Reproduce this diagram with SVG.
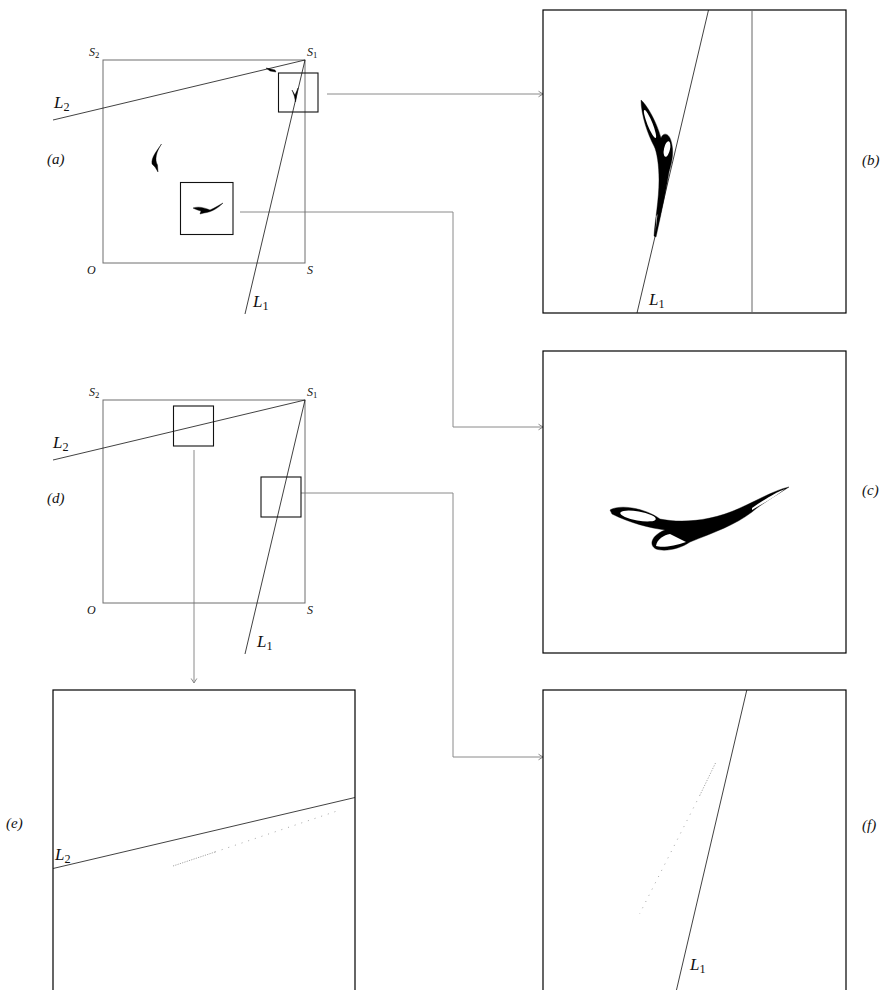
<svg xmlns="http://www.w3.org/2000/svg" width="895" height="990" viewBox="0 0 895 990">
<style>
.frame{fill:none;stroke:#6e6e6e;stroke-width:1}
.panel{fill:none;stroke:#000;stroke-width:1.2}
.box{fill:none;stroke:#111;stroke-width:1.1}
.ln{fill:none;stroke:#111;stroke-width:0.8}
.vline{fill:none;stroke:#666;stroke-width:1}
.conn{fill:none;stroke:#8a8a8a;stroke-width:1}
.att{fill:#000;stroke:#000;stroke-width:0.4}
.hole{fill:#fff;stroke:none}
.dots{fill:none;stroke:#9a9a9a;stroke-width:0.9}
text{font-family:"Liberation Serif","DejaVu Serif",serif;fill:#111}
.s{font-size:12px;font-style:italic}
.L{font-size:17px;font-style:italic}
.tag{font-size:15px;font-style:italic}
.sub{font-style:normal;font-size:0.72em}
</style>
<defs>
<marker id="arr" markerWidth="8" markerHeight="8" refX="6" refY="4" orient="auto" markerUnits="userSpaceOnUse">
<path d="M1.5,1.2 L6,4 L1.5,6.8" fill="none" stroke="#8a8a8a" stroke-width="1"/>
</marker>
</defs>

<g id="connectors">
<path class="conn" d="M327,94 H543" marker-end="url(#arr)"/>
<path class="conn" d="M240,212 H453 V427 H543" marker-end="url(#arr)"/>
<path class="conn" d="M194,450 V683" marker-end="url(#arr)"/>
<path class="conn" d="M301,493 H453 V757 H543" marker-end="url(#arr)"/>
</g>

<g id="panel-a">
<rect class="frame" x="103" y="60" width="202" height="203"/>
<line class="ln" x1="305" y1="60" x2="53" y2="120"/>
<line class="ln" x1="305" y1="60" x2="245" y2="314"/>
<rect class="box" x="278.5" y="73" width="39.5" height="39"/>
<rect class="box" x="180.5" y="182.5" width="52.5" height="52"/>
<path class="att" d="M266,68 L275,70 L276,72 L270,71 Z"/>
<path class="att" d="M292,90 L295,95 L298,88 L296.5,96 L295.5,102 L294.3,96 Z"/>
<path class="att" d="M161.5,144 C157,151 151,157 152,164 L155,167 L158,172 L157.5,165 C154.5,160 156,152 161.5,144 Z"/>
<path class="att" d="M193,208 C199,206 205,208 210,210 C215,208 219,205 223,203 C218,208 212,212 204,213 L200,214 L201,211 C197,210 195,209 193,208 Z"/>
<text class="s" x="89" y="56">S<tspan class="sub" dy="2">2</tspan></text>
<text class="s" x="307" y="56">S<tspan class="sub" dy="2">1</tspan></text>
<text class="s" x="87" y="274">O</text>
<text class="s" x="307" y="274">S</text>
<text class="L" x="54" y="108">L<tspan class="sub" dy="3">2</tspan></text>
<text class="L" x="253" y="307">L<tspan class="sub" dy="3">1</tspan></text>
<text class="tag" x="47" y="164">(a)</text>
</g>

<g id="panel-b">
<rect class="panel" x="543" y="10" width="303" height="303"/>
<line class="vline" x1="752" y1="10" x2="752" y2="313"/>
<line class="ln" x1="708.5" y1="10" x2="637" y2="313"/>
<path class="att" d="M641,100 C646,104 656,120 661,138 C663,132 670,132 672,145 C674,155 671,165 669,172 C666,190 662,210 656,237 L654,236 C655,220 659,200 659,180 C659,165 657,152 654,146 C648,135 641,115 641,100 Z"/>
<ellipse class="hole" cx="650" cy="124" rx="2.6" ry="15" transform="rotate(-22 650 124)"/>
<ellipse class="hole" cx="667" cy="149" rx="3" ry="8" transform="rotate(12 667 149)"/>
<path class="hole" d="M656.5,216 L657.5,214 L655.5,232 Z"/>
<text class="L" x="649" y="305">L<tspan class="sub" dy="3">1</tspan></text>
<text class="tag" x="862" y="165">(b)</text>
</g>

<g id="panel-c">
<rect class="panel" x="543" y="351" width="303" height="302"/>
<path class="att" d="M610,510 C620,504 645,508 660,519 C680,523 710,522 740,508 C760,499 775,490 789,487 C775,496 760,505 752,512 C735,525 715,532 690,542 C680,549 665,552 656,549 C648,545 652,535 665,530 C650,528 630,523 612,514 Z"/>
<ellipse class="hole" cx="638" cy="516" rx="18" ry="4.5" transform="rotate(10 638 516)"/>
<path class="hole" d="M656,546 C657,539 664,535 670,534 L686,542 C675,546 662,548 656,546 Z"/>
<path class="hole" d="M752,508 C765,499 777,492 785,489 C776,496 763,504 752,510 Z"/>
<text class="tag" x="862" y="495">(c)</text>
</g>

<g id="panel-d">
<rect class="frame" x="103" y="400" width="202" height="203"/>
<line class="ln" x1="305" y1="400" x2="53" y2="460"/>
<line class="ln" x1="305" y1="400" x2="245" y2="654"/>
<rect class="box" x="173.5" y="406" width="40" height="40"/>
<rect class="box" x="261" y="477" width="40" height="40"/>
<text class="s" x="89" y="396">S<tspan class="sub" dy="2">2</tspan></text>
<text class="s" x="307" y="396">S<tspan class="sub" dy="2">1</tspan></text>
<text class="s" x="87" y="614">O</text>
<text class="s" x="307" y="614">S</text>
<text class="L" x="53" y="448">L<tspan class="sub" dy="3">2</tspan></text>
<text class="L" x="257" y="647">L<tspan class="sub" dy="3">1</tspan></text>
<text class="tag" x="47" y="503">(d)</text>
</g>

<g id="panel-e">
<rect class="panel" x="53" y="690" width="302" height="303"/>
<line class="ln" x1="53" y1="868.5" x2="355" y2="797.5"/>
<path class="dots" d="M173,866 L215,852" stroke-dasharray="1.2 1.2"/>
<path class="dots" d="M215,852 L340,810" stroke-dasharray="1 6"/>
<text class="L" x="55" y="860">L<tspan class="sub" dy="3">2</tspan></text>
<text class="tag" x="6" y="828">(e)</text>
</g>

<g id="panel-f">
<rect class="panel" x="543" y="690" width="303" height="303"/>
<line class="ln" x1="746.8" y1="690" x2="676" y2="992"/>
<path class="dots" d="M715.5,763 L700,795" stroke-dasharray="1.2 1.5"/>
<path class="dots" d="M700,795 L639.5,914" stroke-dasharray="1 6"/>
<text class="L" x="690" y="970">L<tspan class="sub" dy="3">1</tspan></text>
<text class="tag" x="862" y="830">(f)</text>
</g>
</svg>
